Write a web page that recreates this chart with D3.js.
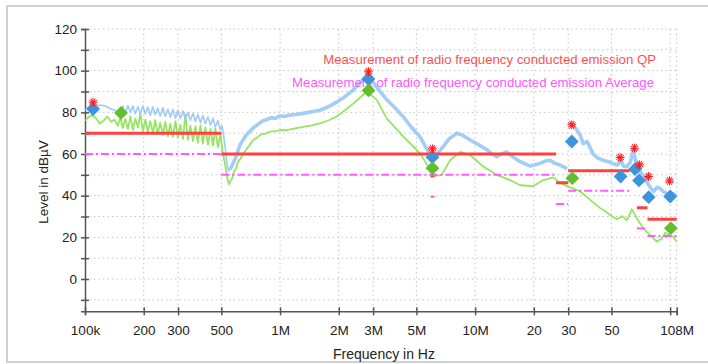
<!DOCTYPE html>
<html>
<head>
<meta charset="utf-8">
<script src="https://cdn.jsdelivr.net/npm/d3@7"></script>
<style>
body { margin: 0; background: #fff; }
text { font-family: "Liberation Sans", Arial, sans-serif; }
</style>
</head>
<body>
<svg id="chart" width="708" height="364"></svg>
<script>
// ---- data (frequency in MHz, level in dBµV) ----
var xTicks = [0.1, 0.2, 0.3, 0.5, 1, 2, 3, 5, 10, 20, 30, 50, 100, 108];
var xTickLabels = ["100k", "200", "300", "500", "1M", "2M", "3M", "5M", "10M", "20", "30", "50", "", "108M"];
var yTicks = [-10, 0, 10, 20, 30, 40, 50, 60, 70, 80, 90, 100, 110, 120];

// limit lines [fStart, fEnd, level]
var qpLimit = [[0.1, 0.5, 70], [0.5, 26, 60], [5.9, 6.2, 49.5], [26, 30, 46.2], [30, 62, 52], [67.5, 76.5, 34.2], [76.5, 108, 28.7]];
var avgLimit = [[0.1, 0.5, 60], [0.5, 26, 50], [5.9, 6.2, 39.5], [26, 30, 36], [30, 62, 42.4], [67.5, 76.5, 24.3], [76.5, 108, 20.7]];

// peak trace (blue)
var peakLow = [[0.1, 81], [0.104, 82.5], [0.108, 83], [0.113, 82.5], [0.119, 83.5], [0.127, 83], [0.134, 82], [0.142, 81], [0.148, 80],
  [0.152, 80.5], [0.156, 83], [0.161, 79.5], [0.166, 83.2], [0.171, 80], [0.176, 83], [0.181, 79.3], [0.187, 82.8], [0.192, 79], [0.198, 83],
  [0.204, 79.2], [0.210, 82.5], [0.216, 78.6], [0.223, 82.7], [0.229, 78.8], [0.236, 82], [0.243, 78.3], [0.251, 82.2], [0.258, 78], [0.266, 81.5],
  [0.274, 77.6], [0.282, 81.3], [0.291, 77.2], [0.299, 81], [0.308, 77], [0.318, 80.6], [0.327, 76.5], [0.337, 80], [0.347, 76.2], [0.358, 79.6],
  [0.368, 75.6], [0.379, 79], [0.391, 75], [0.402, 78.5], [0.414, 74.5], [0.427, 77.8], [0.440, 73.8], [0.453, 77.2], [0.466, 73], [0.480, 76],
  [0.495, 71.5], [0.505, 73.5], [0.515, 68], [0.525, 62], [0.535, 55], [0.545, 52], [0.555, 52.5]];
var peakMid = [[0.555, 52.5], [0.57, 55], [0.59, 58], [0.624, 64.5], [0.67, 69], [0.727, 72.5], [0.77, 74.2], [0.818, 76], [0.86, 76.6], [0.9, 77.4],
  [0.95, 77.2], [1.0, 78.3], [1.05, 78], [1.1, 78.6], [1.2, 79], [1.31, 79.5], [1.45, 80.3], [1.6, 81], [1.78, 82.8], [1.96, 85], [2.15, 87.5],
  [2.37, 90.7], [2.55, 94], [2.78, 97.5], [2.9, 96.5], [3.13, 92], [3.53, 86], [3.9, 82], [4.27, 78], [4.7, 73], [5.22, 68.3], [5.6, 63],
  [6.0, 58.5], [6.4, 60], [6.85, 63.5], [7.4, 67.5], [8.06, 70], [8.7, 68.8], [9.43, 66.7], [10.4, 64.5], [11.5, 62], [12.2, 60], [12.9, 58.7],
  [13.7, 60], [14.5, 61], [15.7, 58.5], [17.0, 56.3], [19.2, 54.2], [20.3, 54.8], [21.5, 55.5], [22.9, 56.6], [24.2, 57], [25.6, 55.5],
  [27.3, 54.7], [29.6, 53]];
var peakHigh = [[31.4, 74], [33.0, 72], [34.6, 69], [35.8, 65], [37.5, 66], [40.3, 60], [42.5, 58], [45.3, 57], [49.2, 56], [53.3, 54.7],
  [56.1, 56.5], [58, 54], [60, 54], [62.4, 56], [64.8, 62], [66.1, 58], [68.5, 53], [71.9, 50], [75.9, 46.7], [79, 44], [82.1, 42], [85.5, 44],
  [88.9, 43.5], [92.1, 42], [96.2, 41], [100, 40], [103.6, 41], [108, 39.5]];

// average trace (green)
var avgTrace = [[0.1, 76], [0.104, 77.5], [0.108, 78.7], [0.113, 77.5], [0.119, 74.7], [0.124, 75.8], [0.13, 78], [0.136, 75.5], [0.142, 76.5], [0.147, 73.5],
  [0.152, 77.5], [0.156, 72.5], [0.161, 76.8], [0.166, 72], [0.171, 78.2], [0.176, 71.5], [0.181, 77], [0.187, 72.8], [0.192, 79.5], [0.198, 71],
  [0.204, 76.5], [0.210, 70.5], [0.216, 75.8], [0.223, 70], [0.229, 76.2], [0.236, 69.5], [0.243, 75], [0.251, 69.2], [0.258, 75.5], [0.266, 68.5],
  [0.274, 74.5], [0.282, 68.2], [0.291, 75.8], [0.299, 67.8], [0.308, 74], [0.318, 67.2], [0.327, 79], [0.337, 66.8], [0.347, 73.5], [0.358, 66.2],
  [0.368, 73.2], [0.379, 65.5], [0.391, 73.8], [0.402, 65], [0.414, 72.8], [0.427, 64.5], [0.440, 72], [0.453, 64], [0.466, 72.3], [0.480, 63.2],
  [0.495, 70], [0.505, 62.5], [0.515, 58], [0.525, 54], [0.54, 47], [0.548, 45.5], [0.56, 47.5], [0.567, 48], [0.58, 51.5], [0.595, 53],
  [0.61, 56.5], [0.63, 58], [0.65, 60.5], [0.67, 62], [0.70, 64.5], [0.727, 66.7], [0.76, 67.8], [0.8, 69.5], [0.84, 69.8], [0.889, 70.7],
  [0.95, 71], [1.02, 71.6], [1.08, 71.5], [1.18, 72.2], [1.31, 73], [1.45, 73.7], [1.6, 74.7], [1.78, 76.2], [1.95, 78], [2.15, 81],
  [2.38, 84.3], [2.6, 87.5], [2.78, 90], [3.13, 86], [3.53, 77], [3.9, 72.5], [4.29, 68.3], [4.75, 64.2], [5.22, 60.3], [5.88, 52.3],
  [6.24, 49.5], [6.75, 50], [7.44, 57], [8.38, 61], [9.43, 59.5], [11.0, 54], [12.9, 50], [15.1, 47.5], [17.0, 45], [19.9, 44.6],
  [22.4, 47.5], [25.2, 48.8], [27.3, 46], [30.7, 44], [34.6, 42], [38.9, 38], [43.8, 34], [46.5, 32.5], [49.2, 30.7], [53.3, 28.7],
  [56.5, 30.2], [60, 28.3], [62, 31], [63.6, 33.5], [65.5, 31.5], [67.5, 29], [73, 24.3], [79, 21], [85.5, 17.9], [90.7, 19.5],
  [94.3, 22.2], [100, 21], [104, 20], [108, 18]];

// final measurement points
var qpFinal = [[0.11, 84.8], [2.84, 99.5], [6.04, 62.5], [31.3, 74], [55.4, 58.3], [65.6, 62.8], [69.6, 54.8], [77.4, 49.2], [99.2, 47.1]];
var peakFinal = [[0.11, 81.6], [2.84, 96], [6.04, 58.5], [31.3, 66], [55.7, 49.2], [66, 52.7], [69.2, 47.3], [77.6, 39.3], [100, 39.6]];
var avgFinal = [[0.153, 79.7], [2.84, 90.5], [6.04, 53.2], [31.5, 48.4], [100.8, 24.4]];

var legendLabels = ["Measurement of radio frequency conducted emission QP", "Measurement of radio frequency conducted emission Average"];

// ---- chart ----
var svg = d3.select("#chart");

// outer frame
svg.append("rect")
  .attr("x", 7).attr("y", 6)
  .attr("width", 760).attr("height", 356)
  .style("fill", "none").style("stroke", "#d0d0d0").style("stroke-width", 2);

var x = d3.scaleLog().domain([0.1, 108]).range([85, 676.7]);
var y = d3.scaleLinear().domain([-15.5, 120]).range([311.3, 29]);

// grid
var grid = svg.append("g").style("stroke", "#c4c4c4").style("stroke-width", 1).style("stroke-dasharray", "1.5,3");
grid.selectAll(".hg").data(yTicks).enter().append("line")
  .attr("x1", x(0.1)).attr("x2", x(108))
  .attr("y1", function(d) { return y(d); }).attr("y2", function(d) { return y(d); });
grid.selectAll(".vg").data(xTicks.slice(1)).enter().append("line")
  .attr("x1", function(d) { return x(d); }).attr("x2", function(d) { return x(d); })
  .attr("y1", y(120)).attr("y2", y(-15.5));

// axes
var xAxis = svg.append("g")
  .attr("transform", "translate(0," + y(-15.5) + ")")
  .call(d3.axisBottom(x).tickValues(xTicks).tickSizeOuter(0).tickSize(4).tickPadding(10)
    .tickFormat(function(d, i) { return xTickLabels[i]; }));
xAxis.selectAll(".tick line").attr("y1", -4).attr("y2", 4);

var yAxis = svg.append("g")
  .attr("transform", "translate(" + x(0.1) + ",0)")
  .call(d3.axisLeft(y).tickValues(yTicks).tickSizeOuter(0).tickSize(4).tickPadding(4)
    .tickFormat(function(d) { return d % 20 === 0 ? d : ""; }));
yAxis.selectAll(".tick line").attr("x1", -4).attr("x2", 4);

[xAxis, yAxis].forEach(function(a) {
  a.select(".domain").style("stroke", "#555").style("stroke-width", 1.5);
  a.selectAll(".tick line").style("stroke", "#555").style("stroke-width", 1.5);
  a.selectAll("text").style("font-family", "Liberation Sans, Arial, sans-serif")
    .style("font-size", "13.5px").style("fill", "#222");
});

svg.append("text")
  .attr("x", 384).attr("y", 359)
  .attr("text-anchor", "middle")
  .style("font-size", "14px").style("fill", "#222")
  .text("Frequency in Hz");
svg.append("text")
  .attr("transform", "translate(48,182) rotate(-90)")
  .attr("text-anchor", "middle")
  .style("font-size", "13.5px").style("fill", "#222")
  .text("Level in dBµV");

// traces
var line = d3.line()
  .x(function(d) { return x(d[0]); })
  .y(function(d) { return y(d[1]); });

svg.append("path").datum(avgTrace).attr("d", line)
  .style("fill", "none").style("stroke", "#96e562").style("stroke-width", 1.8).style("stroke-linejoin", "round");
svg.append("path").datum(peakLow).attr("d", line)
  .style("fill", "none").style("stroke", "#9ecbf6").style("stroke-width", 1.6).style("stroke-linejoin", "round");
[peakMid, peakHigh].forEach(function(seg) {
  svg.append("path").datum(seg).attr("d", line)
    .style("fill", "none").style("stroke", "#a2cdf6").style("stroke-width", 3.6).style("stroke-linejoin", "round");
});

// limit lines
svg.selectAll(".qplim").data(qpLimit).enter().append("line")
  .attr("x1", function(d) { return x(d[0]); }).attr("x2", function(d) { return x(d[1]); })
  .attr("y1", function(d) { return y(d[2]); }).attr("y2", function(d) { return y(d[2]); })
  .style("stroke", "#ff4040").style("stroke-width", 3);
svg.selectAll(".avglim").data(avgLimit).enter().append("line")
  .attr("x1", function(d) { return x(d[0]); }).attr("x2", function(d) { return x(d[1]); })
  .attr("y1", function(d) { return y(d[2]); }).attr("y2", function(d) { return y(d[2]); })
  .style("stroke", "#ff5cff").style("stroke-width", 2).style("stroke-dasharray", "8,3,2,3");

// legend
svg.append("text")
  .attr("x", 656).attr("y", 64).attr("text-anchor", "end")
  .style("font-size", "13.2px").style("fill", "#ff5050")
  .text(legendLabels[0]);
svg.append("text")
  .attr("x", 654).attr("y", 87).attr("text-anchor", "end")
  .style("font-size", "13.2px").style("fill", "#ff55ff")
  .text(legendLabels[1]);

// markers
var diamond = d3.symbol().type(d3.symbolSquare).size(95);
svg.selectAll(".pk").data(peakFinal).enter().append("path")
  .attr("d", diamond)
  .attr("transform", function(d) { return "translate(" + x(d[0]) + "," + y(d[1]) + ") rotate(45)"; })
  .style("fill", "#3c94dc");
svg.selectAll(".av").data(avgFinal).enter().append("path")
  .attr("d", diamond)
  .attr("transform", function(d) { return "translate(" + x(d[0]) + "," + y(d[1]) + ") rotate(45)"; })
  .style("fill", "#62bd31");

var star = d3.symbol().type(d3.symbolAsterisk).size(55);
[0, 30].forEach(function(rot) {
  svg.selectAll(".qp" + rot).data(qpFinal).enter().append("path")
    .attr("d", star)
    .attr("transform", function(d) { return "translate(" + x(d[0]) + "," + y(d[1]) + ") rotate(" + rot + ")"; })
    .style("fill", "none").style("stroke", "#ff1a1a").style("stroke-width", 1);
});
</script>
</body>
</html>
